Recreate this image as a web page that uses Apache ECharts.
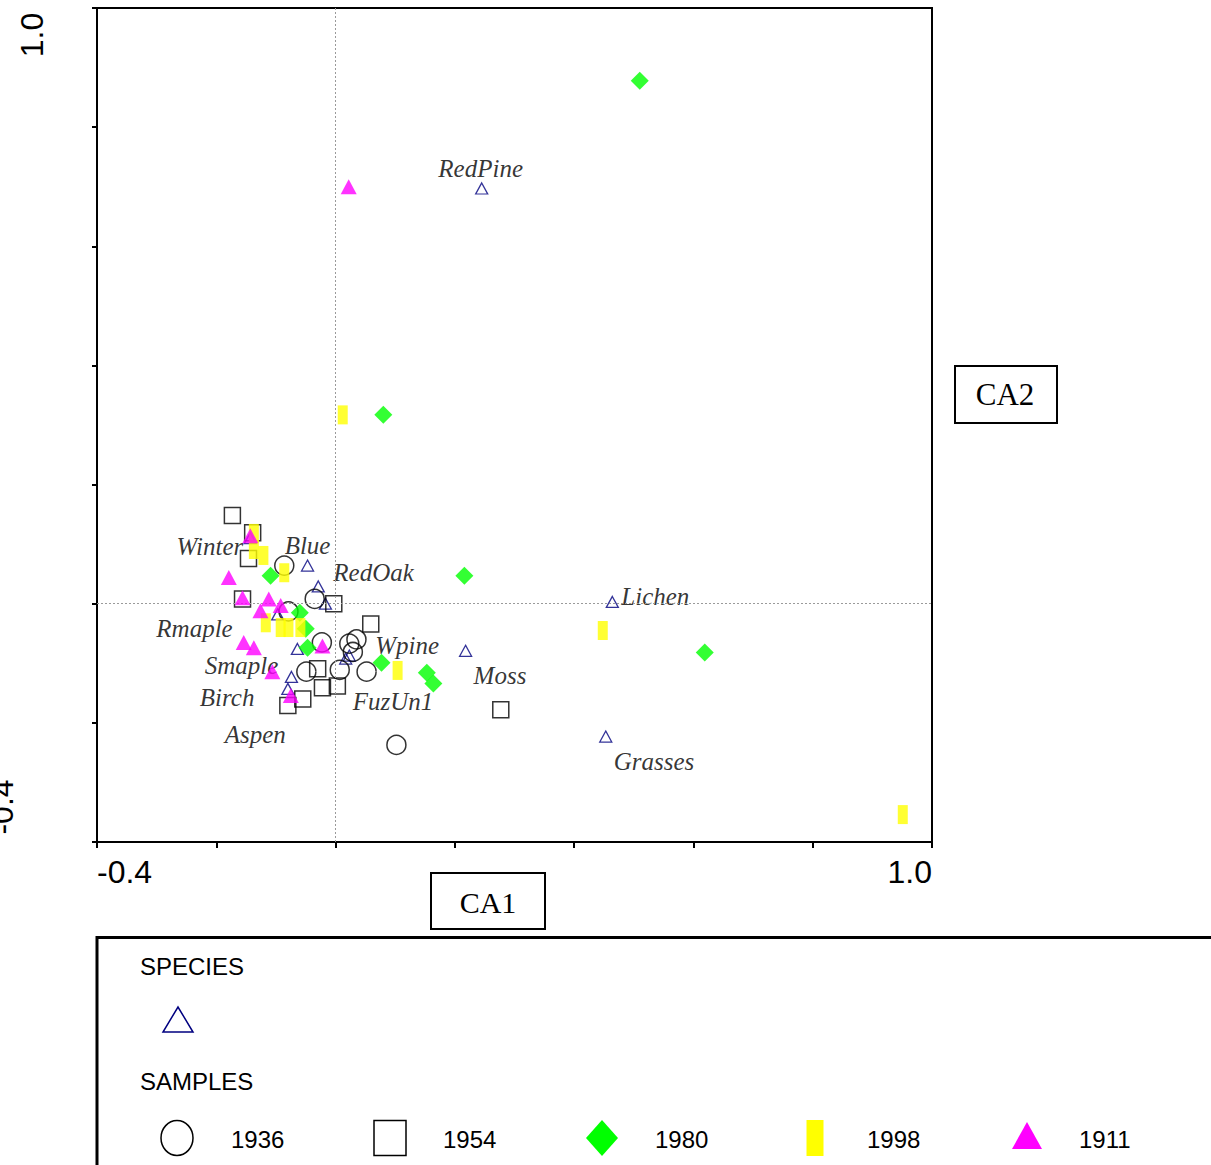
<!DOCTYPE html>
<html><head><meta charset="utf-8">
<script src="https://cdn.jsdelivr.net/npm/echarts@6/dist/echarts.min.js"></script>
<style>html,body{margin:0;padding:0;background:#fff;}#c{width:1211px;height:1165px;}</style>
</head><body><div id="c"></div>
<script>
// ---- tick labels ----
const xTickLabels = ['-0.4', '1.0'];
const yTickLabels = ['-0.4', '1.0'];
const axisTitles = ['CA1', 'CA2'];
const legendTitles = ['SPECIES', 'SAMPLES'];

// ---- species scores (CA1, CA2) ----
const speciesNames = ['RedPine','Lichen','Moss','Grasses','Blue','RedOak','','Winter','Rmaple','Smaple','Birch','Aspen','Wpine','FuzUn1'];
const speciesX = [0.245, 0.464, 0.218, 0.453, -0.047, -0.029, -0.017, -0.143, -0.097, -0.064, -0.074, -0.080, 0.023, 0.017];
const speciesY = [0.697, 0.003, -0.079, -0.223, 0.064, 0.029, 0.000, 0.110, -0.018, -0.076, -0.123, -0.143, -0.087, -0.092];

// ---- sample scores by year ----
const sampleYears = ['1936', '1954', '1980', '1998', '1911'];
const s1936 = [[-0.086,0.064],[-0.035,0.008],[-0.079,-0.013],[-0.023,-0.065],[-0.049,-0.114],[0.007,-0.111],[0.023,-0.067],[0.035,-0.060],[0.029,-0.081],[0.052,-0.114],[0.102,-0.237]];
const s1954 = [[-0.173,0.148],[-0.139,0.119],[-0.146,0.076],[-0.156,0.008],[-0.003,0.000],[0.059,-0.034],[-0.030,-0.109],[-0.022,-0.141],[0.003,-0.138],[-0.055,-0.160],[-0.080,-0.171],[0.277,-0.178]];
const s1980 = [[0.510,0.878],[0.080,0.317],[0.216,0.047],[-0.109,0.047],[0.619,-0.082],[-0.060,-0.015],[-0.050,-0.042],[-0.047,-0.074],[0.077,-0.099],[0.153,-0.116],[0.164,-0.134]];
const s1998 = [[-0.137,0.118],[-0.137,0.091],[-0.121,0.081],[-0.086,0.052],[-0.117,-0.032],[-0.092,-0.040],[-0.079,-0.040],[-0.059,-0.040],[0.012,0.317],[0.104,-0.112],[0.448,-0.045],[0.951,-0.354]];
const s1911 = [[0.022,0.700],[-0.143,0.114],[-0.179,0.044],[-0.156,0.010],[-0.112,0.008],[-0.126,-0.012],[-0.092,-0.003],[-0.154,-0.065],[-0.137,-0.074],[-0.106,-0.114],[-0.075,-0.154],[-0.022,-0.071]];

// ---- label placement (style only) ----
const speciesLabelLayout = [[-1,-20,'center'],[9,-5,'left'],[8,25,'left'],[8,25,'left'],[0,-20,'center'],[15,-14,'left'],null,[-7,8,'right'],[-45,14,'right'],[-19,17,'right'],[-37,21,'right'],[-2,46,'right'],[26,-10,'left'],[7,43,'left']];

const G = {left: 97, top: 8, width: 835, height: 834};
const sans = 'Liberation Sans';
const serif = 'Liberation Serif';

const speciesData = speciesNames.map((n, i) => {
  const L = speciesLabelLayout[i];
  return {
    name: n, value: [speciesX[i], speciesY[i]],
    label: L ? {show: true, position: 'inside', offset: [L[0], L[1]], align: L[2]} : {show: false}
  };
});

const sampleStyles = [
  {symbol: 'circle', size: 19, item: {color: 'rgba(0,0,0,0)', borderColor: '#000', borderWidth: 1.5}},
  {symbol: 'rect', size: 16, item: {color: 'rgba(0,0,0,0)', borderColor: '#000', borderWidth: 1.5}},
  {symbol: 'diamond', size: 18, item: {color: '#00ff00'}},
  {symbol: 'rect', size: [10, 19], item: {color: '#ffff00'}},
  {symbol: 'triangle', size: [16, 15], item: {color: '#ff00ff'}}
];
const sampleSets = [s1936, s1954, s1980, s1998, s1911];

const series = [{
  name: 'SPECIES', type: 'scatter', z: 2,
  symbol: 'triangle', symbolSize: [12, 11],
  itemStyle: {color: 'rgba(0,0,0,0)', borderColor: '#000080', borderWidth: 1.3},
  label: {position: 'inside', formatter: p => p.name, color: '#000', textBorderWidth: 0, textBorderColor: 'transparent', fontFamily: serif, fontStyle: 'italic', fontSize: 25, verticalAlign: 'middle'},
  data: speciesData,
  markLine: {
    silent: true, symbol: 'none', label: {show: false},
    lineStyle: {color: '#9a9a9a', type: [2, 2], width: 1},
    data: [{xAxis: 0}, {yAxis: 0}]
  }
}];
sampleYears.forEach((yr, i) => {
  const st = sampleStyles[i];
  series.push({
    name: yr, type: 'scatter', z: 3 + i,
    symbol: st.symbol, symbolSize: st.size, itemStyle: st.item,
    data: sampleSets[i]
  });
});

function near(a, b) { return Math.abs(a - b) < 1e-6; }

const legendItems = [];
const xs = [177, 390, 602, 815, 1027];
const textXs = [231, 443, 655, 867, 1079];
const rowY = 1138;
legendItems.push({type: 'rect', shape: {x: 97, y: 937.5, width: 1300, height: 400}, style: {fill: 'none', stroke: '#000', lineWidth: 3}});
legendItems.push({type: 'text', x: 140, y: 966, style: {text: legendTitles[0], font: '24px "' + sans + '"', fill: '#000', verticalAlign: 'middle'}});
legendItems.push({type: 'polygon', shape: {points: [[163, 1032], [193, 1032], [178, 1007]]}, style: {fill: 'none', stroke: '#000080', lineWidth: 1.5}});
legendItems.push({type: 'text', x: 140, y: 1081, style: {text: legendTitles[1], font: '24px "' + sans + '"', fill: '#000', verticalAlign: 'middle'}});
legendItems.push({type: 'ellipse', shape: {cx: xs[0], cy: rowY, rx: 16, ry: 17.5}, style: {fill: 'none', stroke: '#000', lineWidth: 1.5}});
legendItems.push({type: 'rect', shape: {x: xs[1] - 16, y: rowY - 17.5, width: 32, height: 35}, style: {fill: 'none', stroke: '#000', lineWidth: 1.5}});
legendItems.push({type: 'polygon', shape: {points: [[xs[2], rowY - 18], [xs[2] + 16, rowY], [xs[2], rowY + 18], [xs[2] - 16, rowY]]}, style: {fill: '#00ff00'}});
legendItems.push({type: 'rect', shape: {x: xs[3] - 8.5, y: rowY - 18, width: 17, height: 36}, style: {fill: '#ffff00'}});
legendItems.push({type: 'polygon', shape: {points: [[xs[4] - 15, rowY + 11], [xs[4] + 15, rowY + 11], [xs[4], rowY - 16]]}, style: {fill: '#ff00ff'}});
sampleYears.forEach((yr, i) => {
  legendItems.push({type: 'text', x: textXs[i], y: rowY + 1, style: {text: yr, font: '24px "' + sans + '"', fill: '#000', verticalAlign: 'middle'}});
});

// axis title boxes
legendItems.push({type: 'rect', shape: {x: 431, y: 873, width: 114, height: 56}, style: {fill: '#fff', stroke: '#000', lineWidth: 2}});
legendItems.push({type: 'text', x: 488, y: 902, style: {text: axisTitles[0], font: '30px "' + serif + '"', fill: '#000', align: 'center', verticalAlign: 'middle'}});
legendItems.push({type: 'rect', shape: {x: 955, y: 366, width: 102, height: 57}, style: {fill: '#fff', stroke: '#000', lineWidth: 2}});
legendItems.push({type: 'text', x: 1005, y: 394, style: {text: axisTitles[1], font: '31px "' + serif + '"', fill: '#000', align: 'center', verticalAlign: 'middle'}});

// rotated y tick labels
legendItems.push({type: 'text', x: 32, y: 35, rotation: Math.PI / 2, style: {text: yTickLabels[1], font: '32px "' + sans + '"', fill: '#000', align: 'center', verticalAlign: 'middle'}});
legendItems.push({type: 'text', x: 2, y: 807, rotation: Math.PI / 2, style: {text: yTickLabels[0], font: '32px "' + sans + '"', fill: '#000', align: 'center', verticalAlign: 'middle'}});

const chart = echarts.init(document.getElementById('c'), null, {renderer: 'svg'});
chart.setOption({
  animation: false,
  backgroundColor: '#fff',
  grid: Object.assign({containLabel: false, show: true, borderColor: '#000', borderWidth: 2, backgroundColor: 'rgba(0,0,0,0)'}, G),
  xAxis: {
    type: 'value', min: -0.4, max: 1.0, interval: 0.2,
    axisLine: {show: true, onZero: false, lineStyle: {color: '#000', width: 2}},
    axisTick: {show: true, length: 6, lineStyle: {color: '#000', width: 2}},
    splitLine: {show: false},
    axisLabel: {
      show: true, margin: 14, fontFamily: sans, fontSize: 32, color: '#000',
      alignMinLabel: 'left', alignMaxLabel: 'right',
      formatter: v => near(v, -0.4) ? xTickLabels[0] : (near(v, 1.0) ? xTickLabels[1] : '')
    }
  },
  yAxis: {
    type: 'value', min: -0.4, max: 1.0, interval: 0.2,
    axisLine: {show: true, onZero: false, lineStyle: {color: '#000', width: 2}},
    axisTick: {show: true, length: 5, lineStyle: {color: '#000', width: 2}},
    splitLine: {show: false},
    axisLabel: {show: false}
  },
  series: series,
  graphic: legendItems
});
</script>
</body></html>
